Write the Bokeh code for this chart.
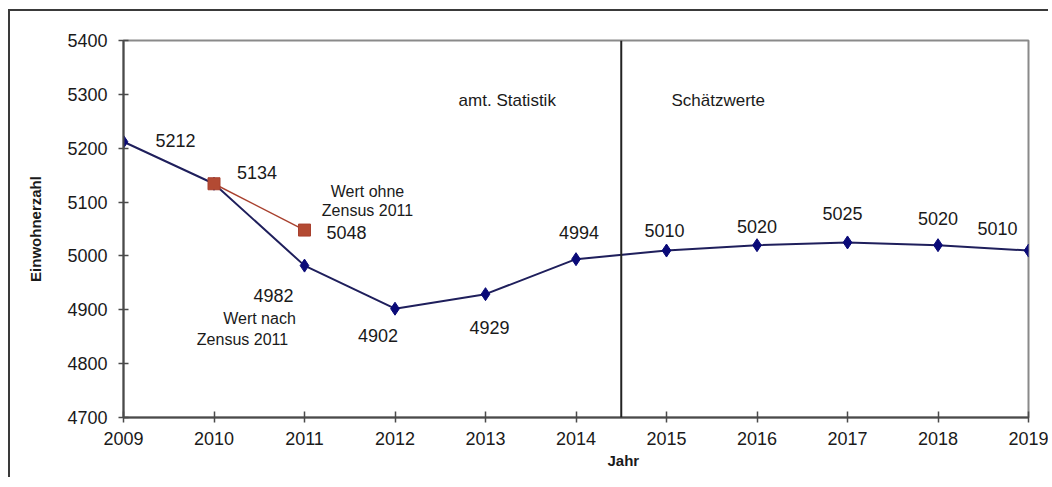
from bokeh.plotting import figure
from bokeh.models import Range1d, FixedTicker, Span, ColumnDataSource, Title
from bokeh.core.properties import value
from bokeh.embed import file_html
from bokeh.resources import INLINE

# ---- data ----
jahre = [2009, 2010, 2011, 2012, 2013, 2014, 2015, 2016, 2017, 2018, 2019]
einwohner = [5212, 5134, 4982, 4902, 4929, 4994, 5010, 5020, 5025, 5020, 5010]
ohne_jahre = [2010, 2011]
ohne_werte = [5134, 5048]
y_ticks = [4700, 4800, 4900, 5000, 5100, 5200, 5300, 5400]
x_ticks = jahre
grenze = 2014.5
bereich_texte = ["amt. Statistik", "Schätzwerte"]

# ---- style (pixel offsets of labels) ----
main_dx = [52, 43, -31, -17, 4, 3, -2, 0, -5, 0, -31]
main_dy = [-1, -11, 30, 27, 33, -27, -20, -19, -29, -27, -22]

FONT = value("Liberation Sans")
TXT = "#1a1a1a"

p = figure(width=1040, height=468,
           x_range=Range1d(2009, 2019), y_range=Range1d(4700, 5400),
           output_backend="svg", toolbar_location=None,
           min_border_left=113, min_border_right=22,
           min_border_top=29, min_border_bottom=62)
p.styles = {"border-top": "2px solid #3a3a3a", "border-left": "2px solid #3a3a3a",
            "margin-left": "8px", "margin-top": "9px"}
p.background_fill_color = "white"
p.border_fill_color = "white"
p.outline_line_color = "#8a8a8a"
p.outline_line_width = 2
p.xgrid.visible = False
p.ygrid.visible = False

for ax in (p.xaxis[0], p.yaxis[0]):
    ax.axis_line_color = "#4a4a4a"
    ax.axis_line_width = 2
    ax.major_tick_line_color = "#4a4a4a"
    ax.major_tick_line_width = 1.5
    ax.minor_tick_line_color = None
    ax.major_label_text_font = "Liberation Sans"
    ax.major_label_text_font_size = "18px"
    ax.major_label_text_color = TXT

p.xaxis.ticker = FixedTicker(ticks=x_ticks)
p.xaxis.major_tick_in = 6
p.xaxis.major_tick_out = 5
p.xaxis.major_label_standoff = 9
p.yaxis.ticker = FixedTicker(ticks=y_ticks)
p.yaxis.major_tick_in = 5
p.yaxis.major_tick_out = 5
p.yaxis.major_label_standoff = 11
p.yaxis.axis_label = "Einwohnerzahl"
p.yaxis.axis_label_text_font = "Liberation Sans"
p.yaxis.axis_label_text_font_style = "bold"
p.yaxis.axis_label_text_font_size = "15px"
p.yaxis.axis_label_text_color = TXT
p.yaxis.axis_label_standoff = 20

# x axis title, placed under the separator line
p.add_layout(Title(text="Jahr", align="left", offset=484, standoff=5,
                   text_font="Liberation Sans", text_font_style="bold",
                   text_font_size="15px", text_color=TXT), "below")

# vertical separator
p.add_layout(Span(location=grenze, dimension="height", line_color="#222222", line_width=2))

# main series
p.line(jahre, einwohner, line_color="#1f1f5c", line_width=2)
p.scatter(jahre, einwohner, marker="diamond", size=13, fill_color="#0a0a78", line_color="#0a0a78")

# series without census correction
p.line(ohne_jahre, ohne_werte, line_color="#a8402e", line_width=1.5)
p.scatter(ohne_jahre, ohne_werte, marker="square", size=12, fill_color="#b34a33", line_color="#a8402e")

# value labels
src = ColumnDataSource(dict(x=jahre, y=einwohner, t=[str(v) for v in einwohner], dx=main_dx, dy=main_dy))
p.text(x="x", y="y", text="t", source=src, x_offset="dx", y_offset="dy",
       text_align="center", text_baseline="middle", text_font=FONT,
       text_font_size="18px", text_color=TXT)
p.text(x=[ohne_jahre[1]], y=[ohne_werte[1]], text=[str(ohne_werte[1])], x_offset=42, y_offset=2,
       text_align="center", text_baseline="middle", text_font=FONT,
       text_font_size="18px", text_color=TXT)

# notes
p.text(x=[ohne_jahre[1]] * 2, y=[ohne_werte[1]] * 2, text=["Wert ohne", "Zensus 2011"],
       x_offset=[63, 63], y_offset=[-39, -20],
       text_align="center", text_baseline="middle", text_font=FONT,
       text_font_size="16px", text_color=TXT)
p.text(x=[jahre[2]] * 2, y=[einwohner[2]] * 2, text=["Wert nach", "Zensus 2011"],
       x_offset=[-45, -62], y_offset=[53, 74],
       text_align="center", text_baseline="middle", text_font=FONT,
       text_font_size="16px", text_color=TXT)

# region texts
p.text(x=[grenze] * 2, y=[y_ticks[-1]] * 2, text=bereich_texte,
       x_offset=[-114, 97], y_offset=[60, 60],
       text_align="center", text_baseline="middle", text_font=FONT,
       text_font_size="17px", text_color=TXT)

open("out.html", "w").write(file_html(p, INLINE))
